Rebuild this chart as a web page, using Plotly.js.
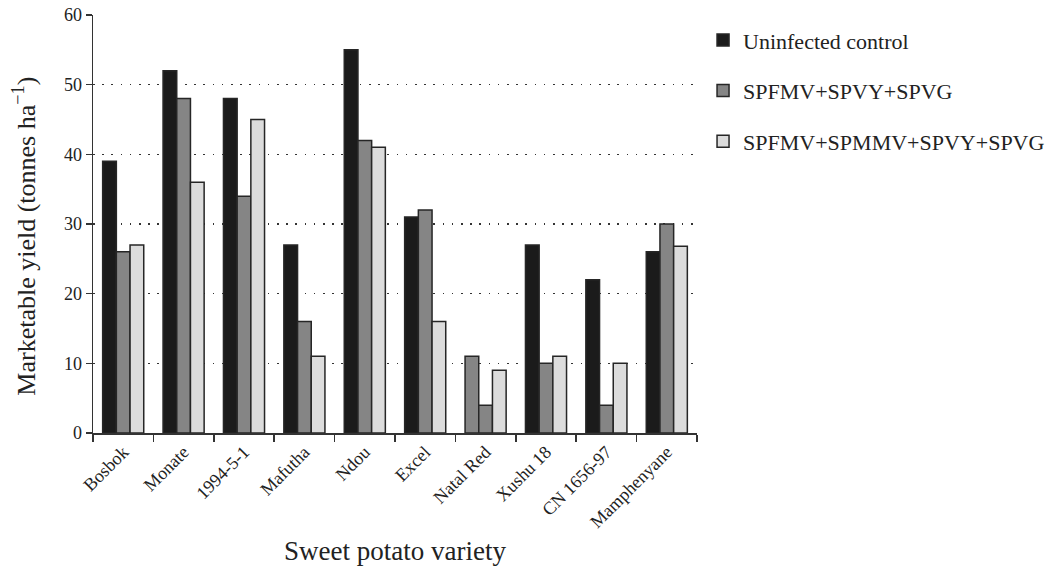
<!DOCTYPE html>
<html>
<head>
<meta charset="utf-8">
<script src="https://cdn.plot.ly/plotly-3.0.1.min.js"></script>
<style>body{margin:0;padding:0;background:#fff;} #chart{width:1053px;height:566px;}</style>
</head>
<body>
<div id="chart"></div>
<script>
const categories = ["Bosbok","Monate","1994-5-1","Mafutha","Ndou","Excel","Natal Red","Xushu 18","CN 1656-97","Mamphenyane"];
const uninfected = [39, 52, 48, 27, 55, 31, 11, 27, 22, 26];
const spfmvSpvySpvg = [26, 48, 34, 16, 42, 32, 4, 10, 4, 30];
const spfmvSpmmvSpvySpvg = [27, 36, 45, 11, 41, 16, 9, 11, 10, 26.8];
const seriesNames = ["Uninfected control", "SPFMV+SPVY+SPVG", "SPFMV+SPMMV+SPVY+SPVG"];
const yTicks = [0, 10, 20, 30, 40, 50, 60];
const xTitle = "Sweet potato variety";
const yTitle = "Marketable yield (tonnes ha<sup>−1</sup>)";

const BLACK = "#1b1b1b", GRAY = "#858585", LIGHT = "#dcdcdc", EDGE = "#262626";
// In the source figure the Natal Red control bar is drawn in the mid-grey fill
const controlColors = categories.map(c => c === "Natal Red" ? GRAY : BLACK);

const font = "Liberation Serif, Times New Roman, serif";
const mk = (name, y, color, g) => ({
  type: "bar", name: name, x: categories, y: y, legendgroup: g,
  marker: {color: color, line: {color: EDGE, width: 1.5}},
  hoverinfo: "x+y+name"
});

const data = [
  mk(seriesNames[0], uninfected, controlColors, "a"),
  mk(seriesNames[1], spfmvSpvySpvg, GRAY, "b"),
  mk(seriesNames[2], spfmvSpmmvSpvySpvg, LIGHT, "c")
];

const layout = {
  width: 1053, height: 566,
  margin: {l: 93, r: 356, t: 15, b: 133, autoexpand: false},
  paper_bgcolor: "#fff", plot_bgcolor: "#fff",
  font: {family: font, color: "#222", size: 18},
  barmode: "group", bargap: 0.32, bargroupgap: 0,
  showlegend: true,
  legend: {
    x: 1.01, xanchor: "left", y: 0.99, yanchor: "top",
    font: {family: font, size: 22, color: "#222"},
    tracegroupgap: 19, bgcolor: "rgba(0,0,0,0)"
  },
  xaxis: {
    type: "category", tickangle: -45, tickson: "boundaries",
    ticks: "outside", ticklen: 7, tickwidth: 1.5, tickcolor: "#333",
    showline: true, linecolor: "#333", linewidth: 1.5,
    showgrid: false, tickfont: {family: font, size: 18, color: "#222"},
    title: {text: xTitle, font: {family: font, size: 27, color: "#222"}, standoff: 22},
    automargin: false
  },
  yaxis: {
    range: [0, 60], tickvals: yTicks, ticktext: yTicks.map(String),
    ticks: "outside", ticklen: 6, tickwidth: 1.5, tickcolor: "#333",
    showline: true, linecolor: "#333", linewidth: 1.5,
    showgrid: true, gridcolor: "#333", griddash: "1.6px,7.6px", gridwidth: 1.6,
    zeroline: false,
    tickfont: {family: font, size: 18, color: "#222"},
    automargin: false
  },
  annotations: [{
    text: yTitle, textangle: -90, showarrow: false,
    xref: "paper", yref: "paper", x: -0.114, y: 0.47,
    xanchor: "center", yanchor: "middle",
    font: {family: font, size: 26, color: "#222"}
  }]
};

Plotly.newPlot("chart", data, layout, {displayModeBar: false, staticPlot: true});
</script>
</body>
</html>
